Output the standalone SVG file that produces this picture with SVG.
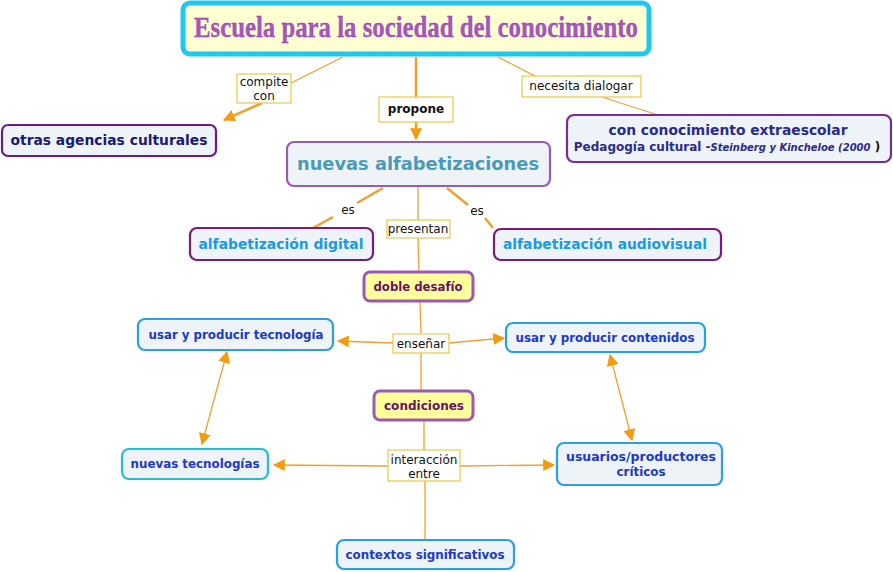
<svg xmlns="http://www.w3.org/2000/svg" width="893" height="572" viewBox="0 0 893 572">
<defs>
<marker id="ah" viewBox="0 0 10 10" refX="9" refY="5" markerWidth="12" markerHeight="12" markerUnits="userSpaceOnUse" orient="auto-start-reverse">
<path d="M0,0 L10,5 L0,10 Z" fill="#f39c12"/>
</marker>
<style>
.ln{stroke:#f0a030;stroke-width:1.3;fill:none}
.lnk{stroke:#f0a030;stroke-width:2.5;fill:none}
.lbl{fill:#fff;stroke:#e8c84a;stroke-width:1.2}
.lt{font-family:"DejaVu Sans","Liberation Sans",sans-serif;font-size:12px;fill:#111;text-anchor:middle}
.nb{fill:#eef3f7;stroke-width:2.2}
.nt{font-family:"DejaVu Sans","Liberation Sans",sans-serif;font-weight:bold;text-anchor:middle}
</style>
</defs>
<rect width="893" height="572" fill="#fff"/>
<g id="connectors">
<line class="ln" x1="343" y1="57" x2="291" y2="83"/>
<line class="lnk" x1="262" y1="103" x2="224" y2="120" marker-end="url(#ah)"/>
<line class="lnk" x1="416" y1="57" x2="416" y2="97"/>
<line class="lnk" x1="416" y1="122" x2="416" y2="139" marker-end="url(#ah)"/>
<line class="ln" x1="498" y1="57" x2="535" y2="76"/>
<line class="ln" x1="602" y1="97" x2="658" y2="115"/>
<line class="lnk" x1="383" y1="188" x2="357" y2="203"/>
<line class="lnk" x1="333" y1="217" x2="313" y2="228"/>
<line class="lnk" x1="447" y1="188" x2="468" y2="205"/>
<line class="lnk" x1="485" y1="218" x2="493" y2="228"/>
<line class="ln" x1="418" y1="186" x2="418" y2="220"/>
<line class="ln" x1="418" y1="238" x2="419" y2="272"/>
<line class="ln" x1="420" y1="301" x2="421" y2="333"/>
<line class="ln" x1="393" y1="343" x2="338" y2="341" marker-end="url(#ah)"/>
<line class="ln" x1="449" y1="343" x2="504" y2="338" marker-end="url(#ah)"/>
<line class="ln" x1="421" y1="353" x2="421" y2="391"/>
<line class="ln" x1="227" y1="352" x2="202" y2="444" marker-start="url(#ah)" marker-end="url(#ah)"/>
<line class="ln" x1="610" y1="355" x2="632" y2="440" marker-start="url(#ah)" marker-end="url(#ah)"/>
<line class="ln" x1="424" y1="420" x2="424" y2="450"/>
<line class="ln" x1="388" y1="466" x2="274" y2="465" marker-end="url(#ah)"/>
<line class="ln" x1="460" y1="466" x2="554" y2="465" marker-end="url(#ah)"/>
<line class="ln" x1="425" y1="481" x2="425" y2="540"/>
<rect class="lbl" x="237" y="74" width="54" height="29"/>
<text class="lt" x="264" y="86">compite</text>
<text class="lt" x="264" y="100">con</text>
<rect class="lbl" x="379" y="97" width="74" height="25"/>
<text class="lt" x="416" y="113" font-weight="bold">propone</text>
<rect class="lbl" x="522" y="76" width="119" height="21"/>
<text class="lt" x="581" y="90">necesita dialogar</text>
<text class="lt" x="348" y="214">es</text>
<text class="lt" x="477" y="215">es</text>
<rect class="lbl" x="387" y="220" width="63" height="18"/>
<text class="lt" x="418" y="233">presentan</text>
<rect class="lbl" x="393" y="334" width="56" height="19"/>
<text class="lt" x="421" y="348">enseñar</text>
<rect class="lbl" x="388" y="450" width="72" height="31"/>
<text class="lt" x="424" y="464">interacción</text>
<text class="lt" x="424" y="478">entre</text>
</g>
<g id="n-title">
<rect x="183" y="3" width="466" height="51" rx="7" fill="#ffffd2" stroke="#1ec8f0" stroke-width="5"/>
<text x="416" y="37" font-family="Liberation Serif, serif" font-weight="bold" font-size="30" fill="#a855c0" text-anchor="middle" textLength="444" lengthAdjust="spacingAndGlyphs" stroke="#8a3aa0" stroke-width="0.3">Escuela para la sociedad del conocimiento</text>
</g>
<g id="n-otras">
<rect class="nb" x="2" y="125" width="214" height="31" rx="6" stroke="#6a1a8a"/>
<text class="nt" x="109" y="145" font-size="13.8" fill="#1a1a6e" textLength="197" lengthAdjust="spacingAndGlyphs">otras agencias culturales</text>
</g>
<g id="n-extra">
<rect class="nb" x="567" y="115" width="324" height="47" rx="7" stroke="#7a2a9a"/>
<text class="nt" x="728" y="135" font-size="13.9" fill="#2a2a8a" textLength="239" lengthAdjust="spacingAndGlyphs">con conocimiento extraescolar</text>
<text class="nt" x="727" y="151" font-size="12" fill="#2a2a8a">Pedagogía cultural -<tspan font-size="10" font-style="italic">Steinberg y Kincheloe (2000</tspan><tspan font-size="12" fill="#111"> )</tspan></text>
</g>
<g id="n-nuevas">
<rect class="nb" x="287" y="142" width="263" height="44" rx="7" stroke="#9b59b6" stroke-width="3.5"/>
<text class="nt" x="418" y="170" font-size="18.5" fill="#4a9ab8" textLength="242" lengthAdjust="spacingAndGlyphs">nuevas alfabetizaciones</text>
</g>
<g id="n-digital">
<rect class="nb" x="190" y="228" width="183" height="32" rx="7" stroke="#7a1a7a"/>
<text class="nt" x="281" y="249" font-size="13.9" fill="#1a9ae6" textLength="165" lengthAdjust="spacingAndGlyphs">alfabetización digital</text>
</g>
<g id="n-audio">
<rect class="nb" x="494" y="229" width="227" height="31" rx="7" stroke="#7a1a7a"/>
<text class="nt" x="605" y="249" font-size="13.9" fill="#1a9ae6" textLength="204" lengthAdjust="spacingAndGlyphs">alfabetización audiovisual</text>
</g>
<g id="n-doble">
<rect x="364" y="272" width="109" height="29" rx="6" fill="#ffff9c" stroke="#9b59b6" stroke-width="3"/>
<text class="nt" x="418" y="291" font-size="11.8" fill="#6a1060" textLength="89" lengthAdjust="spacingAndGlyphs">doble desafío</text>
</g>
<g id="n-tecno">
<rect class="nb" x="138" y="319" width="195" height="31" rx="7" stroke="#2aa0e0"/>
<text class="nt" x="236" y="339" font-size="11.8" fill="#1a3ac8" textLength="175" lengthAdjust="spacingAndGlyphs">usar y producir tecnología</text>
</g>
<g id="n-conten">
<rect class="nb" x="506" y="323" width="199" height="29" rx="7" stroke="#2aa0e0"/>
<text class="nt" x="605" y="342" font-size="11.8" fill="#1a3ac8" textLength="179" lengthAdjust="spacingAndGlyphs">usar y producir contenidos</text>
</g>
<g id="n-cond">
<rect x="374" y="391" width="99" height="29" rx="6" fill="#ffff9c" stroke="#9b59b6" stroke-width="3"/>
<text class="nt" x="424" y="410" font-size="12" fill="#6a1060" textLength="80" lengthAdjust="spacingAndGlyphs">condiciones</text>
</g>
<g id="n-nt">
<rect class="nb" x="122" y="449" width="146" height="30" rx="7" stroke="#20c0d0"/>
<text class="nt" x="195" y="468" font-size="11.9" fill="#1a3ac8" textLength="129" lengthAdjust="spacingAndGlyphs">nuevas tecnologías</text>
</g>
<g id="n-usuarios">
<rect class="nb" x="557" y="443" width="165" height="42" rx="7" stroke="#2aa0e0"/>
<text class="nt" x="641" y="461" font-size="11.9" fill="#1a3ac8" textLength="150" lengthAdjust="spacingAndGlyphs">usuarios/productores</text>
<text class="nt" x="641" y="476" font-size="11.9" fill="#1a3ac8">críticos</text>
</g>
<g id="n-contextos">
<rect class="nb" x="337" y="540" width="177" height="29" rx="7" stroke="#2aa0e0"/>
<text class="nt" x="425" y="559" font-size="11.9" fill="#1a3ac8" textLength="159" lengthAdjust="spacingAndGlyphs">contextos significativos</text>
</g>
</svg>
